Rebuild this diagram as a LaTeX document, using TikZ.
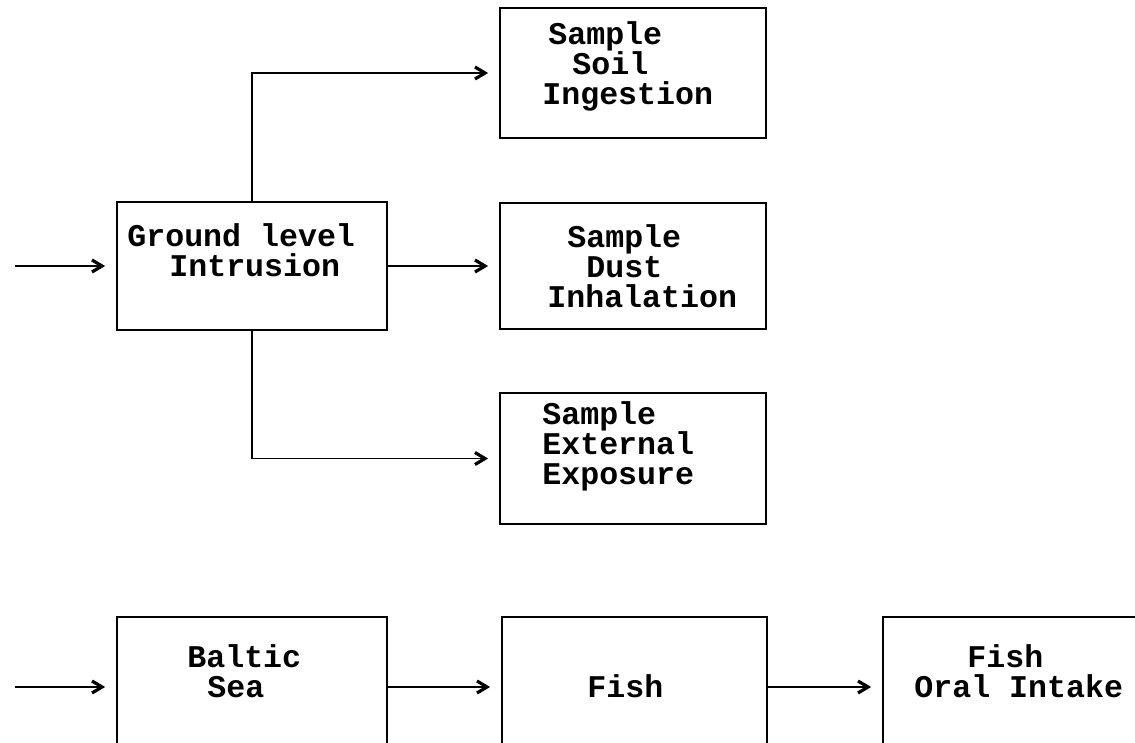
\documentclass[tikz,border=0pt]{standalone}
\usepackage{fontspec}
\setmonofont{Liberation Mono}
\usetikzlibrary{arrows.meta}

\begin{document}
\begin{tikzpicture}[x=0.5pt, y=-0.5pt,
  box/.style={draw, line width=0.9pt, rectangle, inner sep=0pt},
  lbl/.style={anchor=base west, align=left, inner sep=0pt, font=\ttfamily\bfseries\fontsize{15.8}{15}\selectfont},
  link/.style={line width=0.9pt, -{Straight Barb[length=5pt, width=6pt, line width=1.6pt]}, shorten >=5.5pt}
]
\clip (0,0) rectangle (1135,743);
% intrusion branch
\node[box, minimum width=135pt, minimum height=64pt] (ground) at (252,266) {};
\node[box, minimum width=133pt, minimum height=65pt] (soil) at (633,73) {};
\node[box, minimum width=133pt, minimum height=63pt] (dust) at (633,266) {};
\node[box, minimum width=133pt, minimum height=65.5pt] (ext) at (633,458.5) {};
\node[lbl] (groundtxt) at (127,277) {Ground level\\\hspace*{21pt}Intrusion};
\node[lbl] (soiltxt) at (542,105) {\hspace*{3pt}Sample\\\hspace*{15pt}Soil\\Ingestion};
\node[lbl] (dusttxt) at (547,307) {\hspace*{10pt}Sample\\\hspace*{19.5pt}Dust\\Inhalation};
\node[lbl] (exttxt) at (542,484) {Sample\\External\\Exposure};
% sea branch, boxes run off the bottom
\node[box, minimum width=135pt, minimum height=70pt] (baltic) at (252,687) {};
\node[box, minimum width=132.5pt, minimum height=70pt] (fish) at (634.5,687) {};
\node[box, minimum width=133.5pt, minimum height=70pt] (oral) at (1016.5,687) {};
\node[lbl] (baltictxt) at (187,697) {Baltic\\\hspace*{10pt}Sea};
\node[lbl] (fishtxt) at (587,697) {Fish};
\node[lbl] (oraltxt) at (914,697) {\hspace*{26.5pt}Fish\\Oral Intake};
% connectors
\coordinate (in1) at (15,266);
\coordinate (in2) at (15,687);
\draw[link] (in1) -- (ground);
\draw[link] (ground.north) |- (soil);
\draw[link] (ground) -- (dust);
\draw[link] (ground.south) |- (ext);
\draw[link] (in2) -- (baltic);
\draw[link] (baltic) -- (fish);
\draw[link] (fish) -- (oral);
\end{tikzpicture}
\end{document}
